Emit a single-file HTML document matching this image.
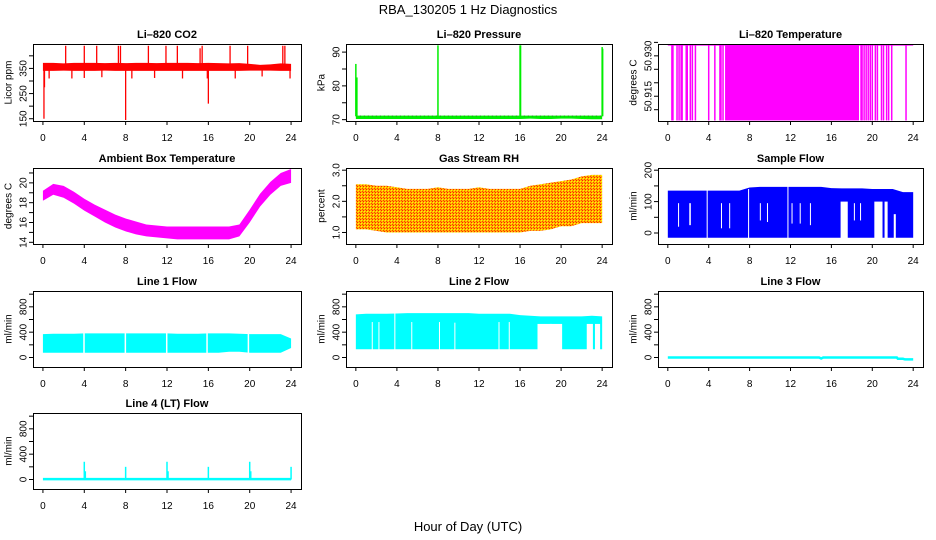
<!DOCTYPE html>
<html><head><meta charset="utf-8">
<style>
html,body{margin:0;padding:0;background:#fff;}
svg{display:block;font-family:"Liberation Sans",sans-serif;}
</style></head>
<body>
<svg id="chart" width="936" height="540" viewBox="0 0 936 540" xmlns="http://www.w3.org/2000/svg">
<defs>
<pattern id="rhpat" width="3" height="3" patternUnits="userSpaceOnUse">
<rect width="3" height="3" fill="#ffb000"/><rect width="1" height="1" fill="#ff2000"/><rect x="1" y="1" width="1" height="1" fill="#ffff00"/><rect x="2" y="2" width="1" height="1" fill="#ff4000"/>
</pattern>
</defs>
<text x="468" y="14" text-anchor="middle" font-size="13">RBA_130205  1 Hz Diagnostics</text>
<text x="468" y="531" text-anchor="middle" font-size="13">Hour of Day (UTC)</text>
</svg>
<script>
// ---------- data ----------
const hours = [0,1,2,3,4,5,6,7,8,9,10,11,12,13,14,15,16,17,18,19,20,21,22,23,24];
const xTicks = [0,4,8,12,16,20,24];

const co2Lo = [340,340,341,340,340,340,341,340,340,340,340,340,340,340,340,340,340,340,340,340,341,341,341,340,340];
const co2Hi = [372,372,370,372,372,372,371,372,371,372,372,371,372,372,372,371,372,371,370,371,368,364,366,370,368];
const co2SpikeX = [0.1,0.15,8.0,16.0,2.2,4.0,5.2,7.3,7.5,10.2,11.9,13.0,15.2,15.4,18.1,19.8,23.2,23.4,0.6,2.8,4.0,5.7,8.6,10.8,13.5,15.9,18.6,21.2,23.9];
const co2SpikeY = [150,275,145,210,440,440,440,440,440,440,440,440,430,440,440,440,440,440,310,310,312,315,310,312,310,310,310,318,310];

const presLo = [70.2,70.2,70.2,70.2,70.2,70.2,70.2,70.2,70.2,70.2,70.2,70.2,70.2,70.2,70.2,70.2,70.2,70.3,70.2,70.2,70.3,70.3,70.2,70.1,70.1];
const presHi = [71.2,71.2,71.2,71.2,71.2,71.2,71.2,71.2,71.2,71.2,71.2,71.2,71.2,71.2,71.2,71.2,71.2,71.2,71.2,71.2,71.2,71.2,71.2,71.2,71.2];
const presSpikeX = [0.0,0.1,8.0,16.0,16.05,24.0,24.05];
const presSpikeY = [86.5,82.5,92.0,92.0,92.0,91.5,91.0];

const tempTop = 50.934;
const tempBottom = 50.906;
const tempDropX = [0.4,0.5,0.9,1.1,1.3,1.4,1.8,1.9,2.2,2.4,2.7,4.0,4.6,5.1,5.2,5.4,18.9,19.0,19.2,19.4,19.6,19.8,20.0,20.3,20.5,20.9,21.1,21.4,21.6,21.9,23.3];
const tempDenseStart = 5.6;
const tempDenseEnd = 18.7;

const ambLo = [18.2,18.8,18.5,17.9,17.2,16.6,16.0,15.5,15.1,14.8,14.6,14.5,14.4,14.3,14.3,14.3,14.3,14.3,14.3,14.6,16.0,17.6,18.8,19.7,20.0];
const ambHi = [19.2,19.9,19.7,19.1,18.4,17.8,17.3,16.8,16.4,16.1,15.8,15.7,15.6,15.6,15.6,15.6,15.6,15.6,15.6,15.8,17.3,18.9,20.1,21.0,21.4];

const rhLo = [1.1,1.1,1.05,1.0,1.0,1.0,1.0,1.0,1.0,1.0,1.0,1.0,1.0,1.0,1.0,1.0,1.0,1.05,1.05,1.1,1.2,1.2,1.3,1.3,1.3];
const rhHi = [2.55,2.55,2.5,2.5,2.45,2.4,2.4,2.4,2.45,2.4,2.4,2.4,2.45,2.4,2.4,2.4,2.4,2.5,2.55,2.6,2.65,2.7,2.8,2.85,2.85];

const sfLo = [-15,-15,-15,-15,-15,-15,-15,-15,-15,-15,-15,-15,-15,-15,-15,-15,-15,-15,-15,-15,-15,-15,-15,-15,-15];
const sfHi = [135,135,135,135,135,135,135,135,145,147,147,147,147,147,147,147,143,142,142,142,140,140,140,130,130];
const sfGapX0 = [1.0,2.1,3.8,5.2,6.0,7.85,9.0,9.7,11.7,12.1,12.9,13.9,16.9,18.2,18.8,20.2,21.2,22.1];
const sfGapX1 = [1.1,2.25,3.9,5.3,6.1,7.95,9.1,9.8,11.8,12.2,13.0,14.0,17.6,18.3,18.9,21.0,21.5,22.3];
const sfGapLo = [20,25,-20,15,15,-20,40,35,-20,30,30,25,-20,40,40,-20,-20,-20];
const sfGapHi = [95,95,140,95,95,140,95,95,150,95,95,95,100,95,95,100,100,60];

const l1Lo = [75,75,75,75,75,75,75,75,75,75,75,75,75,75,75,75,75,75,90,90,75,75,75,75,150];
const l1Hi = [370,375,375,375,380,380,380,380,380,380,380,380,380,375,375,375,380,380,380,375,370,370,370,370,300];
const l1GapX = [3.9,7.9,11.9,15.8,19.8];

const l2Lo = [130,130,130,130,130,130,130,130,130,130,130,130,130,130,130,130,130,130,130,130,130,130,130,130,130];
const l2Hi = [680,690,690,690,695,700,700,700,700,700,700,700,690,690,690,690,670,660,650,650,650,650,650,660,650];
const l2GapX0 = [1.55,2.2,3.75,5.4,8.1,9.6,13.9,14.9,17.7,18.9,22.5,23.3];
const l2GapX1 = [1.62,2.27,3.85,5.47,8.17,9.67,13.97,14.97,20.1,19.1,23.1,23.8];
const l2GapHi = [560,560,700,560,560,550,560,560,530,530,530,530];

const l3X = [0,4,8,12,14.8,15.0,15.2,16,20,22.4,22.5,23.0,23.2,24];
const l3Y = [0,0,0,0,0,-15,0,0,0,0,-20,-20,-30,-30];

const l4X = [4.0,4.1,8.0,12.0,12.1,16.0,20.0,20.1,24.0];
const l4Y = [280,130,200,280,130,200,280,130,200];

// ---------- drawing ----------
const svg = document.getElementById('chart');
const NS = 'http://www.w3.org/2000/svg';
function mk(tag, attrs, parent, name) {
  const el = document.createElementNS(NS, tag);
  for (const k in attrs) el.setAttribute(k, attrs[k]);
  
  
  (parent || svg).appendChild(el);
  return el;
}
const cols = [[33,301],[346,612],[658,923]];
const rows = [[44,121],[168,244],[291,367],[413,489]];

function panel(slug, c, r, title, ylab, ymin, ymax, ticks, labels) {
  const [L, R] = cols[c], [T, B] = rows[r];
  const g = mk('g', {}, svg, slug + '-panel');
  const x0 = L + (R - L) * (0.04 / 1.08);
  const xw = (R - L) / 1.08;
  const sx = h => x0 + h / 24 * xw;
  const sy = v => B - (v - ymin) / (ymax - ymin) * (B - T);
  const plot = mk('g', {}, g, slug + '-plot-area');
  mk('text', {x: (L + R) / 2, y: T - 6, 'text-anchor': 'middle', 'font-size': 11, 'font-weight': 'bold'}, g, slug + '-title').textContent = title;
  xTicks.forEach(t => {
    mk('line', {x1: sx(t), x2: sx(t), y1: B, y2: B + 4, stroke: '#000'}, g, slug + '-x-tick');
    mk('text', {x: sx(t), y: B + 20, 'text-anchor': 'middle', 'font-size': 10}, g, slug + '-x-tick-label').textContent = t;
  });
  mk('line', {x1: sx(0), x2: sx(24), y1: B + 0.5, y2: B + 0.5, stroke: '#000'}, g, slug + '-x-axis');
  ticks.forEach(t => {
    mk('line', {x1: L - 4, x2: L, y1: sy(t), y2: sy(t), stroke: '#000'}, g, slug + '-y-tick');
  });
  labels.forEach(t => {
    const yy = sy(t);
    mk('text', {x: L - 9, y: yy, 'text-anchor': 'middle', 'dominant-baseline': 'central', 'font-size': 10, transform: `rotate(-90 ${L - 9} ${yy})`}, g, slug + '-y-tick-label').textContent = t;
  });
  const my = (T + B) / 2, mx = L - 24;
  mk('text', {x: mx, y: my, 'text-anchor': 'middle', 'dominant-baseline': 'central', 'font-size': 10, transform: `rotate(-90 ${mx} ${my})`}, g, slug + '-y-axis-title').textContent = ylab;
  const frame = () => mk('rect', {x: L + 0.5, y: T + 0.5, width: R - L, height: B - T, fill: 'none', stroke: '#000'}, g, slug + '-frame');
  return {g: plot, sx, sy, frame};
}
function band(p, lo, hi, fill, name) {
  let pts = hours.map((h, i) => `${p.sx(h)},${p.sy(hi[i])}`);
  for (let i = hours.length - 1; i >= 0; i--) pts.push(`${p.sx(hours[i])},${p.sy(lo[i])}`);
  return mk('polygon', {points: pts.join(' '), fill: fill}, p.g, name);
}
function vline(p, x, y1, y2, color, w, name) {
  return mk('line', {x1: p.sx(x), x2: p.sx(x), y1: p.sy(y1), y2: p.sy(y2), stroke: color, 'stroke-width': w}, p.g, name);
}

// CO2
let p = panel('co2', 0, 0, 'Li\u2013820 CO2', 'Licor ppm', 141, 447, [150,200,250,300,350,400], [150,250,350]);
band(p, co2Lo, co2Hi, '#ff0000', 'co2-band');
co2SpikeX.forEach((x, i) => vline(p, x, 355, co2SpikeY[i], '#ff0000', 1.3, 'co2-spike'));
p.frame();

// Pressure
p = panel('pressure', 1, 0, 'Li\u2013820 Pressure', 'kPa', 69.6, 92.4, [70,75,80,85,90], [70,80,90]);
band(p, presLo, presHi, '#00ee00', 'pressure-band');
mk('line', {x1: p.sx(0), x2: p.sx(24), y1: p.sy(71.1), y2: p.sy(71.1), stroke: '#333', 'stroke-width': 0.6, 'stroke-dasharray': '1,3'}, p.g, 'pressure-dotted-line');
presSpikeX.forEach((x, i) => vline(p, x, 71, presSpikeY[i], '#00ee00', 1.5, 'pressure-spike'));
p.frame();

// Temperature
p = panel('licor-temp', 2, 0, 'Li\u2013820 Temperature', 'degrees C', 50.9058, 50.9344, [50.910,50.915,50.920,50.925,50.930,50.935], ['50.915','50.930']);
mk('line', {x1: p.sx(0), x2: p.sx(24), y1: p.sy(tempTop), y2: p.sy(tempTop), stroke: '#ff00ff', 'stroke-width': 1.2}, p.g, 'temp-top-line');
mk('rect', {x: p.sx(tempDenseStart), y: p.sy(tempTop), width: p.sx(tempDenseEnd) - p.sx(tempDenseStart), height: p.sy(tempBottom) - p.sy(tempTop), fill: '#ff00ff'}, p.g, 'temp-dense-block');
tempDropX.forEach(x => vline(p, x, tempTop, tempBottom, '#ff00ff', 1.5, 'temp-drop'));
p.frame();

// Ambient
p = panel('ambient-temp', 0, 1, 'Ambient Box Temperature', 'degrees C', 13.83, 21.5, [14,15,16,17,18,19,20,21], [14,16,18,20]);
band(p, ambLo, ambHi, '#ff00ff', 'ambient-band');
p.frame();

// RH
p = panel('rh', 1, 1, 'Gas Stream RH', 'percent', 0.63, 3.07, [1.0,1.5,2.0,2.5,3.0], ['1.0','2.0','3.0']);
band(p, rhLo, rhHi, 'url(#rhpat)', 'rh-band');
p.frame();

// Sample flow
p = panel('sample-flow', 2, 1, 'Sample Flow', 'ml/min', -35, 207, [0,50,100,150,200], [0,100,200]);
band(p, sfLo, sfHi, '#0000ff', 'sample-flow-band');
sfGapX0.forEach((x, i) => mk('rect', {x: p.sx(x), y: p.sy(sfGapHi[i]), width: Math.max(1, p.sx(sfGapX1[i]) - p.sx(x)), height: p.sy(sfGapLo[i]) - p.sy(sfGapHi[i]), fill: '#fff'}, p.g, 'sample-flow-gap'));
p.frame();

// Line 1
const flowTicks = [0,200,400,600,800,1000];
p = panel('line1', 0, 2, 'Line 1 Flow', 'ml/min', -150, 1050, flowTicks, [0,400,800]);
band(p, l1Lo, l1Hi, '#00ffff', 'line1-band');
l1GapX.forEach(x => mk('rect', {x: p.sx(x), y: p.sy(400), width: 1.5, height: p.sy(60) - p.sy(400), fill: '#fff'}, p.g, 'line1-gap'));
p.frame();

// Line 2
p = panel('line2', 1, 2, 'Line 2 Flow', 'ml/min', -150, 1050, flowTicks, [0,400,800]);
band(p, l2Lo, l2Hi, '#00ffff', 'line2-band');
l2GapX0.forEach((x, i) => mk('rect', {x: p.sx(x), y: p.sy(l2GapHi[i]), width: Math.max(1, p.sx(l2GapX1[i]) - p.sx(x)), height: p.sy(110) - p.sy(l2GapHi[i]), fill: '#fff'}, p.g, 'line2-gap'));
p.frame();

// Line 3
p = panel('line3', 2, 2, 'Line 3 Flow', 'ml/min', -150, 1050, flowTicks, [0,400,800]);
mk('polyline', {points: l3X.map((x, i) => `${p.sx(x)},${p.sy(l3Y[i])}`).join(' '), fill: 'none', stroke: '#00ffff', 'stroke-width': 2.5}, p.g, 'line3-series');
p.frame();

// Line 4
p = panel('line4', 0, 3, 'Line 4 (LT) Flow', 'ml/min', -150, 1050, flowTicks, [0,400,800]);
mk('line', {x1: p.sx(0), x2: p.sx(24), y1: p.sy(5), y2: p.sy(5), stroke: '#00ffff', 'stroke-width': 2.5}, p.g, 'line4-baseline');
l4X.forEach((x, i) => vline(p, x, 0, l4Y[i], '#00ffff', 1.5, 'line4-spike'));
p.frame();
</script>
</body></html>
